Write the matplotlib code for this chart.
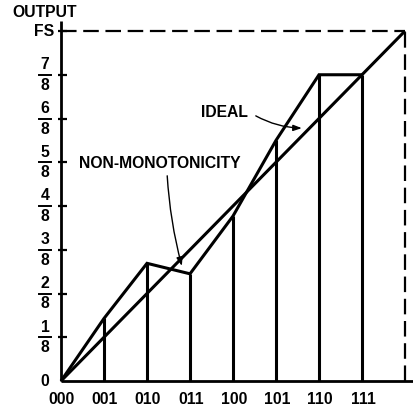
import matplotlib
matplotlib.use("Agg")
import matplotlib.pyplot as plt

plt.rcParams['font.family'] = ['Liberation Sans', 'DejaVu Sans']
plt.rcParams['font.weight'] = 'bold'

# Digital input codes and the converter's actual output (in units of FS/8)
codes = ["000", "001", "010", "011", "100", "101", "110", "111"]
actual_out = [0, 1.43, 2.69, 2.45, 3.77, 5.5, 7.0, 7.0]
full_scale = 8
y_tick_nums = [1, 2, 3, 4, 5, 6, 7]
y_tick_den = 8

W, H = 414, 409
fig = plt.figure(figsize=(W / 100, H / 100), dpi=100)
ax = fig.add_axes([0, 0, 1, 1])
# pixel geometry of the plotting frame
x0_px, y0_px = 61, 381
sx, sy = 43.0, 43.75
ax.set_xlim(-x0_px / sx, (W - x0_px) / sx)
ax.set_ylim(-(H - y0_px) / sy, y0_px / sy)
ax.axis('off')

lw = 2.2
fs = 11.3
k = dict(color='black', solid_capstyle='butt', solid_joinstyle='miter')

# axes
ax.plot([0, 8.19], [0, 0], lw=2.0, **k)
ax.plot([0, 0], [0, 8.23], lw=2.0, **k)

# y ticks
for v in y_tick_nums + [full_scale]:
    ax.plot([-3 / sx, 6 / sx], [v, v], lw=1.6, **k)

# full-scale dashed box
ax.plot([0, full_scale], [full_scale, full_scale], lw=1.6, color='black',
        dashes=(7, 3))
ax.plot([full_scale, full_scale], [0, full_scale], lw=1.6, color='black',
        dashes=(7, 3))

# ideal transfer line
ax.plot([0, full_scale], [0, full_scale], lw=lw, **k)

# actual transfer curve
xs = list(range(len(actual_out)))
ax.plot(xs, actual_out, lw=lw, **k)
for x, v in zip(xs[1:], actual_out[1:]):
    ax.plot([x, x], [0, v], lw=lw, **k)

# x tick labels
for i, c in enumerate(codes):
    ax.text(i + 1 / sx, -19 / sy, c, ha='center', va='center', fontsize=fs,
            fontweight='bold')

# y labels as stacked fractions
lx = -16 / sx
for n in y_tick_nums:
    ax.text(lx, n + 2.5 / sy, str(n), ha='center', va='bottom', fontsize=fs,
            fontweight='bold')
    ax.text(lx, n - 3 / sy, str(y_tick_den), ha='center', va='top',
            fontsize=fs, fontweight='bold')
    ax.plot([lx - 6 / sx, lx + 6 / sx], [n, n], lw=1.4, color='black')
ax.text(lx, 0, "0", ha='center', va='center', fontsize=fs, fontweight='bold')
ax.text(-17 / sx, full_scale, "FS", ha='center', va='center', fontsize=fs,
        fontweight='bold')
ax.text(lx, 8.43, "OUTPUT", ha='center', va='center', fontsize=fs,
        fontweight='bold')

# annotations
arrow = dict(arrowstyle='-|>,head_length=0.5,head_width=0.18', lw=1.0,
             color='black', shrinkA=0, shrinkB=0)
ax.text(3.81, 6.13, "IDEAL", ha='center', va='center', fontsize=fs,
        fontweight='bold')
ax.annotate("", xy=(5.60, 5.78), xytext=(4.53, 6.06),
            arrowprops=dict(connectionstyle='arc3,rad=0.12', **arrow))
ax.text(2.30, 4.98, "NON-MONOTONICITY", ha='center', va='center',
        fontsize=fs, fontweight='bold')
ax.annotate("", xy=(2.81, 2.63), xytext=(2.47, 4.69),
            arrowprops=dict(connectionstyle='arc3,rad=0.05', **arrow))

fig.savefig("out.png", dpi=100, facecolor='white')
